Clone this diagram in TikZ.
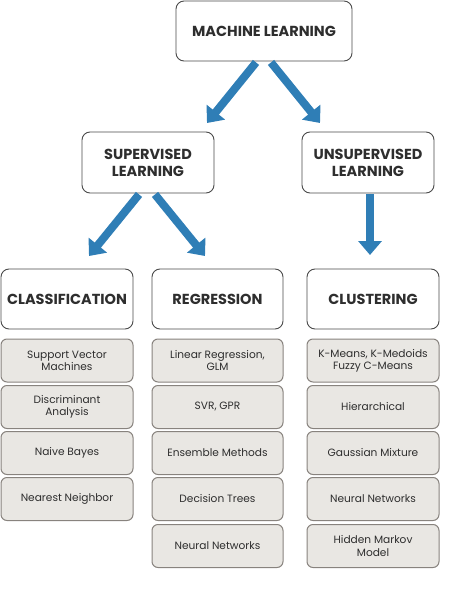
\documentclass[tikz,border=0pt]{standalone}
\usepackage{fontspec}
\setmainfont{Poppins}
\usetikzlibrary{arrows.meta}
\definecolor{arrowblue}{HTML}{2F7EB6}
\definecolor{itemfill}{HTML}{E9E7E3}
\definecolor{itemdraw}{HTML}{88837E}
\definecolor{headdraw}{HTML}{4A4A4A}
\definecolor{txt}{HTML}{2E2E2E}
\tikzset{
  headbox/.style={draw=headdraw, line width=0.9pt, fill=white, rounded corners=8pt,
    align=center, text=txt, font=\bfseries\fontsize{14.5}{17}\selectfont, inner sep=0pt},
  itembox/.style={draw=itemdraw, line width=1pt, fill=itemfill, rounded corners=6pt,
    align=center, text=txt, font=\fontsize{10.6}{12.3}\selectfont, inner sep=0pt,
    minimum height=43pt},
  bigarrow/.style={draw=arrowblue, line width=8pt,
    -{Triangle[width=23pt,length=14pt]}, arrowblue}
}
\begin{document}
\begin{tikzpicture}[x=1pt,y=-1pt]
\useasboundingbox (0,0) rectangle (452,599);
% top
\node[headbox, minimum width=176pt, minimum height=60pt] (ml) at (264,31) {MACHINE LEARNING};
\node[headbox, minimum width=132pt, minimum height=61pt] (sup) at (148,162.5) {SUPERVISED\\LEARNING};
\node[headbox, minimum width=132pt, minimum height=61pt] (uns) at (368,162.5) {UNSUPERVISED\\LEARNING};
\node[headbox, minimum width=132pt, minimum height=60pt] (cls) at (67,299) {CLASSIFICATION};
\node[headbox, minimum width=131pt, minimum height=60pt] (reg) at (217.5,299) {REGRESSION};
\node[headbox, minimum width=132pt, minimum height=60pt] (clu) at (373,299) {CLUSTERING};
% arrow ends
\coordinate (t1) at (207,123);
\coordinate (t2) at (320,123);
\coordinate (t3) at (89,256);
\coordinate (t4) at (205,256);
\coordinate (t5) at (370,255);
\draw[bigarrow] ([xshift=-8pt,yshift=-1pt]ml.south) -- (t1);
\draw[bigarrow] ([xshift=7pt,yshift=-1pt]ml.south) -- (t2);
\draw[bigarrow] ([xshift=-9pt,yshift=-1pt]sup.south) -- (t3);
\draw[bigarrow] ([xshift=7pt,yshift=-1pt]sup.south) -- (t4);
\draw[bigarrow] ([xshift=2pt,yshift=-1pt]uns.south) -- (t5);
% classification items
\node[itembox, minimum width=132pt] (c1) at (67,360.5) {Support Vector\\Machines};
\node[itembox, minimum width=132pt] (c2) at (67,407) {Discriminant\\Analysis};
\node[itembox, minimum width=132pt] (c3) at (67,453) {Naive Bayes};
\node[itembox, minimum width=132pt] (c4) at (67,499) {Nearest Neighbor};
% regression items
\node[itembox, minimum width=131pt] (r1) at (217.5,360.5) {Linear Regression,\\GLM};
\node[itembox, minimum width=131pt] (r2) at (217.5,407) {SVR, GPR};
\node[itembox, minimum width=131pt] (r3) at (217.5,453) {Ensemble Methods};
\node[itembox, minimum width=131pt] (r4) at (217.5,499) {Decision Trees};
\node[itembox, minimum width=131pt] (r5) at (217.5,546) {Neural Networks};
% clustering items
\node[itembox, minimum width=132pt] (k1) at (373,360.5) {K-Means, K-Medoids\\Fuzzy C-Means};
\node[itembox, minimum width=132pt] (k2) at (373,407) {Hierarchical};
\node[itembox, minimum width=132pt] (k3) at (373,453) {Gaussian Mixture};
\node[itembox, minimum width=132pt] (k4) at (373,499) {Neural Networks};
\node[itembox, minimum width=132pt] (k5) at (373,546) {Hidden Markov\\Model};
\end{tikzpicture}
\end{document}
